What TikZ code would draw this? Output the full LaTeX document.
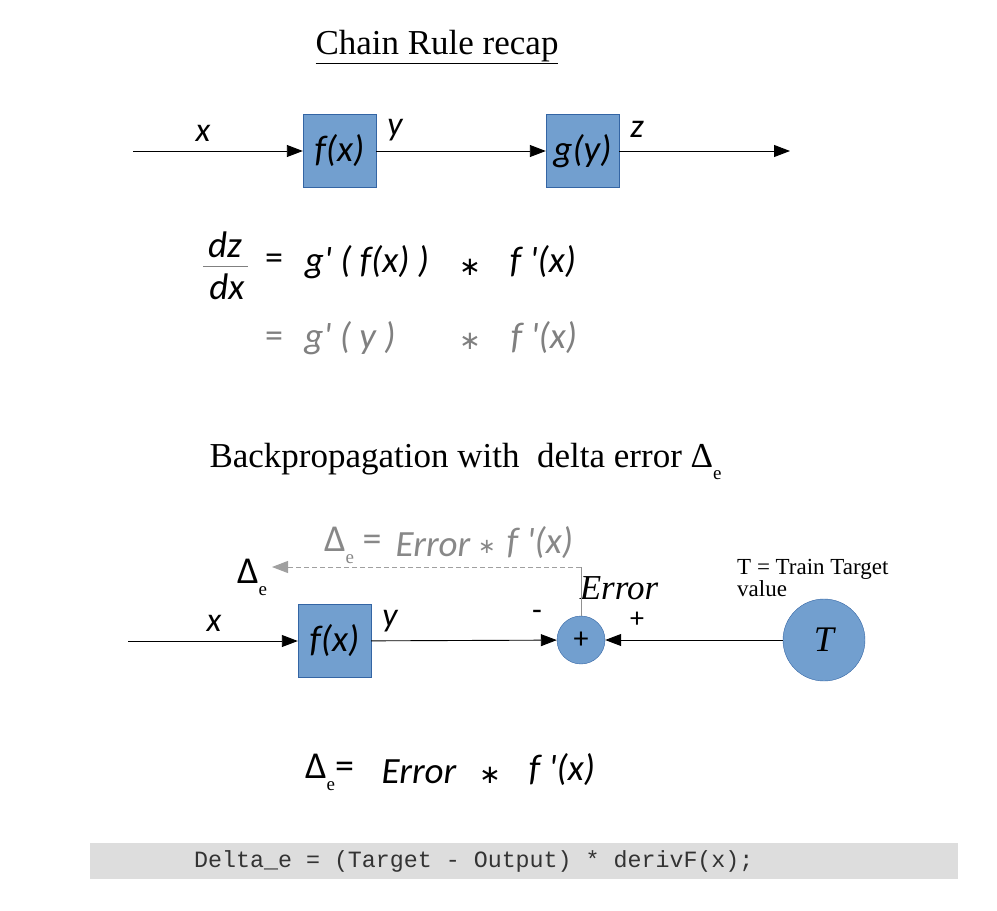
\documentclass[tikz,border=0pt]{standalone}
\usepackage{fontspec}
\setmainfont{Liberation Serif}
\setmonofont{Liberation Mono}
\newfontfamily\lbl{Carlito}
\newfontfamily\symf{DejaVu Sans}
\usetikzlibrary{arrows.meta}
\definecolor{boxblue}{HTML}{729FCF}
\definecolor{boxedge}{HTML}{3465A4}
\definecolor{codegray}{HTML}{DDDDDD}
\definecolor{fbgray}{HTML}{A0A0A0}
\newcommand{\fsz}[1]{\fontsize{#1}{#1}\selectfont}
\newcommand{\dsub}{\raisebox{-12pt}{\fsz{19}\rmfamily\upshape e}}
\newcommand{\bigast}[1][26]{{\symf\upshape\fsz{#1}∗}}
\tikzset{
  block/.style={draw=boxedge, fill=boxblue, minimum size=73pt, inner sep=0pt,
    font=\lbl\itshape\fsz{37}},
  sig/.style={-{Triangle[length=16pt,width=12pt]}, line width=0.9pt},
  lbl/.style={font=\lbl\itshape\fsz{34}, inner sep=0pt},
  eq/.style={font=\lbl\itshape\fsz{37}, inner sep=0pt},
}
\begin{document}
\begin{tikzpicture}[x=1pt, y=-1pt]
\useasboundingbox (0,0) rectangle (997,911);
% title
\node (title) at (437,47) {\fsz{35}\underline{Chain Rule recap}};
% chain x -> f -> g -> z
\coordinate (in1) at (133,151);
\node[block] (f1) at (339.5,151) {f(x)};
\node[block] (g1) at (582.5,151) {g(y)};
\coordinate (out1) at (790,151);
\draw[sig] (in1) -- (f1);
\draw[sig] (f1) -- (g1);
\draw[sig] (g1) -- (out1);
\node[lbl] (x1) at (203,133) {x};
\node[lbl] (y1) at (395,130) {y};
\node[lbl] (z1) at (637,129) {z};
% chain rule
\node[eq] (dz) at (225,245) {dz};
\node[eq] (dx) at (227,287) {dx};
\draw[gray, line width=0.9pt] (203,266) -- (248,266);
\node[eq, font=\lbl\fsz{36}] (eqA) at (274,262) {=};
\node[eq] (gA) at (367,262) {g' ( f(x) )};
\node[eq] (astA) at (470,267) {\bigast};
\node[eq] (fA) at (543,262) {f '(x)};
\begin{scope}[gray]
\node[eq, font=\lbl\fsz{36}] (eqB) at (274,340) {=};
\node[eq] (gB) at (350,338) {g' ( y )};
\node[eq] (astB) at (470,341) {\bigast};
\node[eq] (fB) at (544,338) {f '(x)};
\end{scope}
% backpropagation
\node[anchor=west] (bp) at (206,461) {\fsz{35}Backpropagation with\ \ delta error Δ\dsub};
\coordinate (in2) at (128,641);
\node[block] (f2) at (334.5,641) {f(x)};
\node[circle, draw=boxedge, fill=boxblue, minimum size=48pt, inner sep=0pt,
  font=\lbl\fsz{30}] (sum) at (581,640) {+};
\node[circle, draw=boxedge, fill=boxblue, minimum size=82pt, inner sep=0pt,
  font=\itshape\fsz{36}] (T) at (824,640) {T};
\draw[sig] (in2) -- (f2);
\draw[sig] (f2) -- (sum);
\draw[sig] (T) -- (sum);
\node[lbl] (x2) at (214,623) {x};
\node[lbl] (y2) at (390,621) {y};
\node[font=\lbl\fsz{32}, inner sep=0pt] (minus) at (537,615) {-};
\node[font=\lbl\fsz{28}, inner sep=0pt] (plus) at (637,620) {+};
\node[font=\itshape\fsz{35}, inner sep=0pt] (err) at (619,588) {Error};
\node[align=left, anchor=north west, inner sep=0pt, font=\fsz{23}] (Tdesc) at (737,559)
  {T = Train Target\\[-1pt] value};
% feedback
\coordinate (fb) at (581,567);
\coordinate (fbend) at (272,567);
\draw[fbgray!90!black, line width=0.9pt] (sum) -- (fb);
\draw[sig, fbgray, dashed, dash pattern=on 5pt off 3pt] (fb) -- (fbend);
\begin{scope}[fbgray!85!black]
\node[eq, anchor=west] (fbd) at (324,545) {\upshape\fsz{38}Δ\dsub\ =};
\node[eq] (fberr) at (433,545) {Error};
\node[eq] (fbast) at (487,547) {\bigast[21]};
\node[eq] (fbf) at (540,543) {f '(x)};
\end{scope}
\node[font=\lbl\fsz{38}, anchor=west, inner sep=0pt] (de) at (237,577) {Δ\dsub};
% delta formula
\node[eq, anchor=west] (dd) at (305,772) {\upshape\fsz{38}Δ\dsub=};
\node[eq] (derr) at (419,772) {Error};
\node[eq] (dast) at (490,775) {\bigast};
\node[eq] (df) at (562,770) {f '(x)};
% code
\node[fill=codegray, minimum width=868pt, minimum height=36pt, inner sep=0pt] (codebox) at (524,861) {};
\node[anchor=west, inner sep=0pt, font=\ttfamily\fsz{23.3}, text=black!80] (code) at (194,861)
  {Delta\_e = (Target - Output) * derivF(x);};
\end{tikzpicture}
\end{document}
